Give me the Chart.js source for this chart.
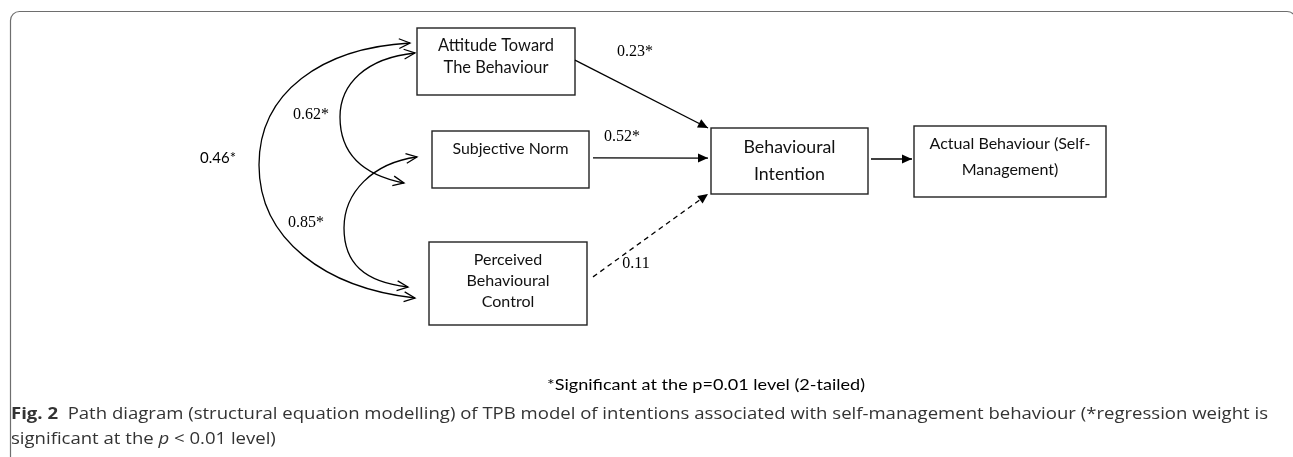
<!DOCTYPE html>
<html><head><meta charset="utf-8">
<script src="https://cdn.jsdelivr.net/npm/chart.js@4.4.1/dist/chart.umd.min.js"></script>
<style>html,body{margin:0;padding:0;background:#fff;overflow:hidden}canvas{display:block}</style>
</head><body>
<canvas id="c" width="1293" height="457"></canvas>
<script>
// ---------------- DATA ----------------
const constructs = ["Attitude Toward The Behaviour", "Subjective Norm", "Perceived Behavioural Control", "Behavioural Intention", "Actual Behaviour (Self-Management)"];
const constructLines = [["Attitude Toward", "The Behaviour"], ["Subjective Norm"], ["Perceived", "Behavioural", "Control"], ["Behavioural", "Intention"], ["Actual Behaviour (Self-", "Management)"]];
const regressionPaths = [[0, 3], [1, 3], [2, 3], [3, 4]];          // source -> target construct index
const regressionWeights = [0.23, 0.52, 0.11, null];
const regressionSignificant = [true, true, false, null];
const correlationPairs = [[0, 1], [1, 2], [0, 2]];
const correlations = [0.62, 0.85, 0.46];
const correlationSignificant = [true, true, true];
const footnote = "*Significant at the p=0.01 level (2-tailed)";
const captionLabel = "Fig. 2";
const captionLine1 = "Path diagram (structural equation modelling) of TPB model of intentions associated with self-management behaviour (*regression weight is";
const captionLine2 = ["significant at the ", "p", " < 0.01 level)"];

// ---------------- LAYOUT (positions / sizes / styles) ----------------
const L = {
  W: 1293, H: 457,
  boxes: [[417, 28, 575, 95], [432, 131, 589, 188], [429, 242, 587, 325], [711, 128, 868, 194], [914, 126, 1106, 197]],
  lineY: [[46, 68], [149], [260, 281, 302], [147, 174], [144, 170]],
  textWidth: [116, 116, 83, 92, 161],
  // anchors: [source x offset from right edge, source y frac, target x offset from left edge, target y frac]
  pathAnchors: [[0, 0.48, -3, 0.0], [4, 0.47, -3, 0.455], [6, 0.42, -3, 1.0], [3, 0.47, -2, 0.465]],
  pathDashed: [false, false, true, false],
  pathLabelPos: [[635, 52], [622, 137], [636, 264]],
  // curves: segment1 [P0,c1,c2,M], segment2 [M,c3,c4,P3]
  curves: [
    [[415, 53], [366, 58], [340, 84], [340, 117], [340, 150], [358, 174], [404, 183]],
    [[417, 157], [372, 163], [344, 193], [344, 228], [344, 263], [364, 282], [408, 287]],
    [[410, 43], [322, 48], [259, 92], [259, 165], [259, 240], [326, 288], [415, 298]]
  ],
  corrLabelPos: [[311, 115], [306, 223], [218, 158]],
  corrLabelSerif: [true, true, false]
};

// straight paths computed from box anchors
function pathPoints(i) {
  const [s, t] = regressionPaths[i];
  const bs = L.boxes[s], bt = L.boxes[t], a = L.pathAnchors[i];
  return [
    { x: bs[2] + a[0], y: bs[1] + a[1] * (bs[3] - bs[1]) },
    { x: bt[0] + a[2], y: bt[1] + a[3] * (bt[3] - bt[1]) }
  ];
}

const datasets = regressionPaths.map((p, i) => ({
  label: constructs[p[0]] + " → " + constructs[p[1]],
  data: pathPoints(i),
  showLine: true,
  borderColor: "#000",
  borderWidth: 1.3,
  borderDash: L.pathDashed[i] ? [5, 4] : [],
  pointRadius: 0,
  pointHoverRadius: 0,
  clip: false
}));

function arrowFilled(ctx, x1, y1, x2, y2, len, half) {
  const a = Math.atan2(y2 - y1, x2 - x1);
  const bx = x2 - len * Math.cos(a), by = y2 - len * Math.sin(a);
  ctx.beginPath();
  ctx.moveTo(x2, y2);
  ctx.lineTo(bx + half * Math.sin(a), by - half * Math.cos(a));
  ctx.lineTo(bx - half * Math.sin(a), by + half * Math.cos(a));
  ctx.closePath();
  ctx.fill();
}
function arrowOpen(ctx, x1, y1, x2, y2, len, ang) {
  const a = Math.atan2(y2 - y1, x2 - x1);
  ctx.beginPath();
  ctx.moveTo(x2 - len * Math.cos(a - ang), y2 - len * Math.sin(a - ang));
  ctx.lineTo(x2, y2);
  ctx.lineTo(x2 - len * Math.cos(a + ang), y2 - len * Math.sin(a + ang));
  ctx.stroke();
}

const diagram = {
  id: "diagram",
  beforeDatasetsDraw(chart) {
    const ctx = chart.ctx, X = v => chart.scales.x.getPixelForValue(v), Y = v => chart.scales.y.getPixelForValue(v);
    ctx.save();
    // figure frame
    ctx.strokeStyle = "#6e6e6e"; ctx.lineWidth = 1.2;
    const fx = X(10) + 0.5, fy = Y(11) + 0.5, r = 9;
    ctx.beginPath();
    ctx.moveTo(fx, Y(470));
    ctx.lineTo(fx, fy + r);
    ctx.arcTo(fx, fy, fx + r, fy, r);
    ctx.lineTo(X(1296) - r, fy);
    ctx.arcTo(X(1296), fy, X(1296), fy + r, r);
    ctx.lineTo(X(1296), Y(470));
    ctx.stroke();
    // boxes
    ctx.strokeStyle = "#222"; ctx.lineWidth = 1.4;
    L.boxes.forEach((b, i) => {
      const x0 = X(b[0]), y0 = Y(b[1]), x1 = X(b[2]), y1 = Y(b[3]);
      ctx.strokeRect(x0, y0, x1 - x0, y1 - y0);
      // text fitted to width
      ctx.font = "100px Lato";
      const widest = Math.max(...constructLines[i].map(t => ctx.measureText(t).width));
      const size = 100 * L.textWidth[i] / widest;
      ctx.font = size.toFixed(2) + "px Lato";
      ctx.fillStyle = "#111"; ctx.textAlign = "center"; ctx.textBaseline = "middle";
      constructLines[i].forEach((t, k) => ctx.fillText(t, (x0 + x1) / 2, Y(L.lineY[i][k])));
    });
    ctx.restore();
  },
  afterDatasetsDraw(chart) {
    const ctx = chart.ctx, X = v => chart.scales.x.getPixelForValue(v), Y = v => chart.scales.y.getPixelForValue(v);
    ctx.save();
    ctx.fillStyle = "#000"; ctx.strokeStyle = "#000";
    // arrowheads for straight regression paths
    chart.data.datasets.forEach((d, i) => {
      const pts = chart.getDatasetMeta(i).data;
      const a = pts[0], b = pts[pts.length - 1];
      arrowFilled(ctx, a.x, a.y, b.x, b.y, 10, 4.6);
    });
    // correlation curves
    ctx.lineWidth = 1.3; ctx.setLineDash([]);
    L.curves.forEach(c => {
      const P = c.map(p => [X(p[0]), Y(p[1])]);
      ctx.beginPath();
      ctx.moveTo(P[0][0], P[0][1]);
      ctx.bezierCurveTo(P[1][0], P[1][1], P[2][0], P[2][1], P[3][0], P[3][1]);
      ctx.bezierCurveTo(P[4][0], P[4][1], P[5][0], P[5][1], P[6][0], P[6][1]);
      ctx.stroke();
      arrowOpen(ctx, P[1][0], P[1][1], P[0][0], P[0][1], 12, 0.42);
      arrowOpen(ctx, P[5][0], P[5][1], P[6][0], P[6][1], 12, 0.42);
    });
    // coefficient labels
    ctx.textAlign = "center"; ctx.textBaseline = "middle"; ctx.fillStyle = "#000";
    ctx.font = "16px 'Liberation Serif'";
    regressionWeights.forEach((w, i) => {
      if (w === null) return;
      const p = L.pathLabelPos[i];
      ctx.fillText(w.toFixed(2) + (regressionSignificant[i] ? "*" : ""), X(p[0]), Y(p[1]));
    });
    correlations.forEach((v, i) => {
      const p = L.corrLabelPos[i];
      ctx.font = L.corrLabelSerif[i] ? "16px 'Liberation Serif'" : "15px Lato";
      ctx.fillText(v.toFixed(2) + (correlationSignificant[i] ? "*" : ""), X(p[0]), Y(p[1]));
    });
    // footnote
    ctx.font = "16px Lato"; ctx.textAlign = "left"; ctx.textBaseline = "alphabetic";
    const fw = ctx.measureText(footnote).width;
    ctx.save(); ctx.translate(X(547), Y(390)); ctx.scale(318 / fw, 1); ctx.fillText(footnote, 0, 0); ctx.restore();
    // caption
    ctx.fillStyle = "#333";
    const fs = 16, fam = "'Open Sans'";
    const bold = "bold " + fs + "px " + fam, reg = fs + "px " + fam, ital = "italic " + fs + "px " + fam;
    ctx.font = bold; const wb = ctx.measureText(captionLabel + "  ").width;
    ctx.font = reg; const w1 = ctx.measureText(captionLine1).width;
    const k = (1268 - 11) / (wb + w1);
    ctx.save(); ctx.translate(X(11), Y(419)); ctx.scale(k, 1);
    ctx.font = bold; ctx.fillText(captionLabel, 0, 0);
    ctx.font = reg; ctx.fillText(captionLine1, wb, 0);
    ctx.restore();
    ctx.save(); ctx.translate(X(11), Y(444)); ctx.scale(k, 1);
    let x = 0;
    [reg, ital, reg].forEach((f, j) => { ctx.font = f; ctx.fillText(captionLine2[j], x, 0); x += ctx.measureText(captionLine2[j]).width; });
    ctx.restore();
    ctx.restore();
  }
};

new Chart(document.getElementById("c"), {
  type: "scatter",
  data: { datasets },
  options: {
    responsive: false,
    animation: false,
    devicePixelRatio: 1,
    layout: { padding: 0 },
    events: [],
    plugins: { legend: { display: false }, tooltip: { enabled: false }, title: { display: false } },
    scales: {
      x: { type: "linear", min: 0, max: L.W, display: false },
      y: { type: "linear", min: 0, max: L.H, reverse: true, display: false }
    }
  },
  plugins: [diagram]
});
</script>
</body></html>
